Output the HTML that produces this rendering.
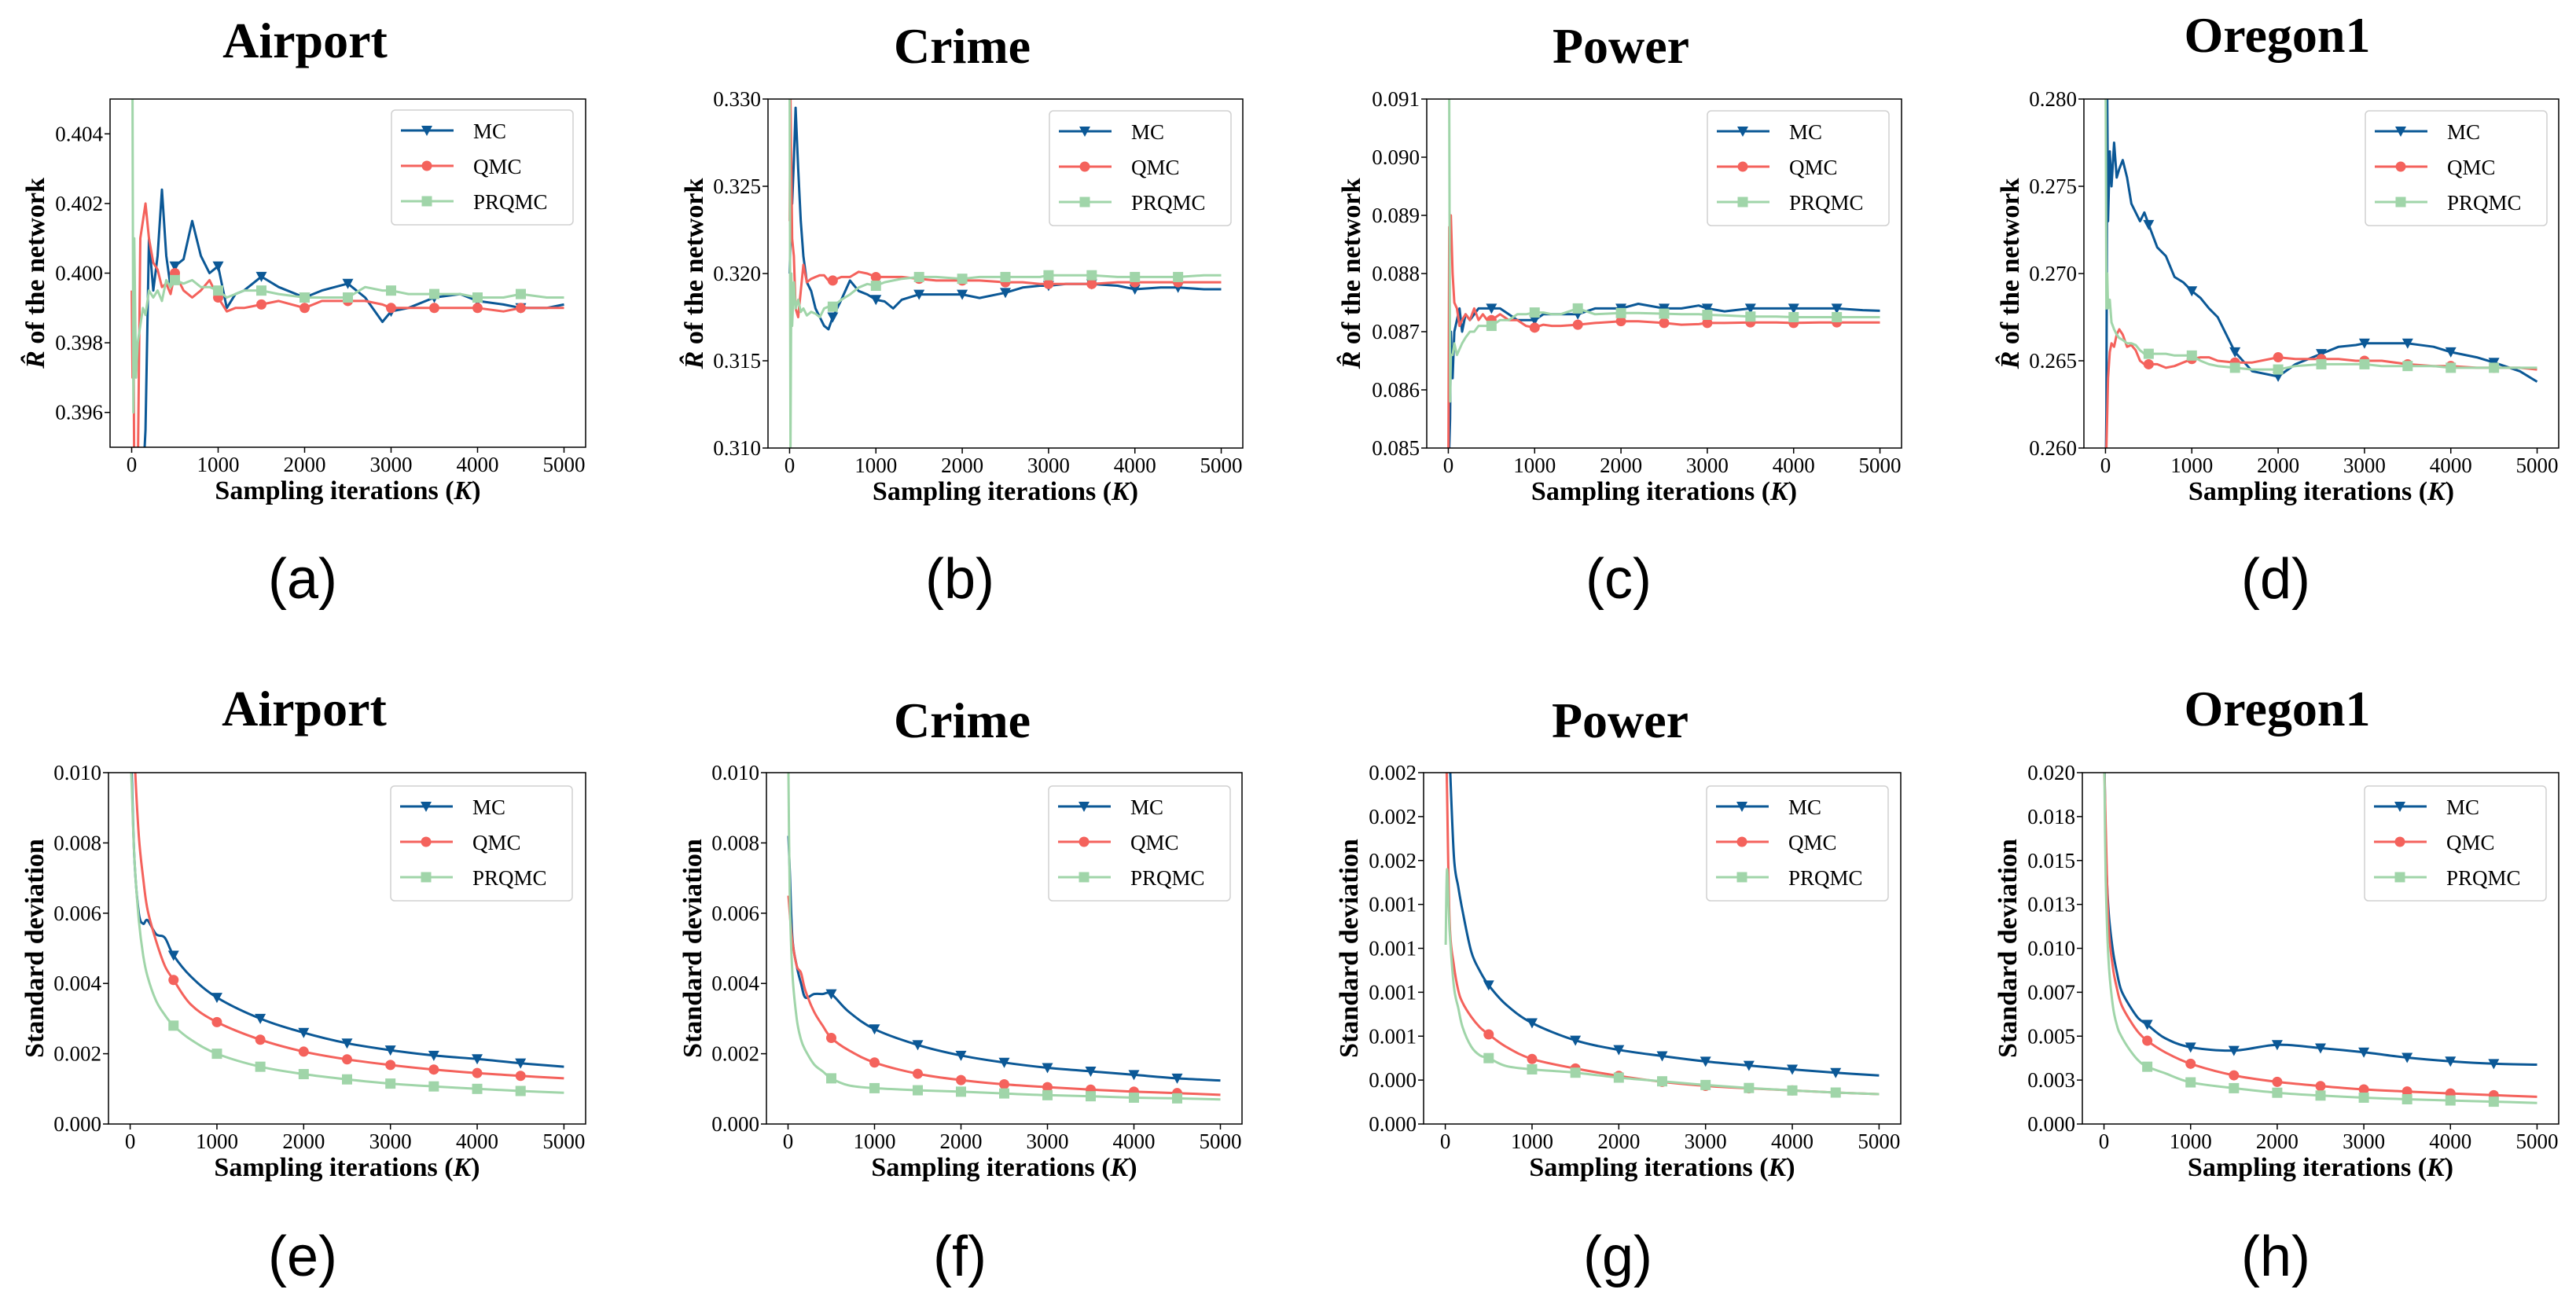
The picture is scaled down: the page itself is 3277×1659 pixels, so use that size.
<!DOCTYPE html>
<html><head><meta charset="utf-8"><style>
html,body{margin:0;padding:0;background:#fff;}
svg{display:block;}
text{font-family:"Liberation Serif",serif;fill:#000;}
</style></head><body>
<svg id="fig" width="3277" height="1659" viewBox="0 0 3277 1659" xmlns="http://www.w3.org/2000/svg"></svg>
<script>
// ---------- shared x data ----------
const xsTop=[1,10,20,30,50,70,100,130,160,200,250,300,350,400,450,500,600,700,800,900,1000,1100,1200,1300,1500,1700,2000,2200,2500,2700,2900,3000,3200,3500,3800,4000,4300,4500,4800,5000];
const xsBot=[5,20,50,100,150,200,300,400,500,700,1000,1500,2000,2500,3000,3500,4000,4500,5000];
const xTicks=[0,1000,2000,3000,4000,5000];
const markerXs=[500,1000,1500,2000,2500,3000,3500,4000,4500];
const seriesNames=["MC","QMC","PRQMC"];

// ---------- (a) Airport ----------
const aMC=[0.392,0.390,0.391,0.393,0.394,0.392,0.393,0.394,0.3955,0.401,0.3995,0.4005,0.4024,0.4005,0.3996,0.4002,0.4004,0.4015,0.4005,0.4,0.4002,0.3990,0.3994,0.3995,0.3999,0.3996,0.3993,0.3995,0.3997,0.3993,0.3986,0.3989,0.3990,0.3993,0.3994,0.3992,0.3991,0.3990,0.3990,0.3991];
const aQMC=[0.3995,0.397,0.399,0.394,0.392,0.394,0.401,0.4015,0.402,0.401,0.4003,0.4001,0.3996,0.3997,0.3994,0.4,0.3995,0.3993,0.3995,0.3998,0.3993,0.3989,0.3990,0.3990,0.3991,0.3992,0.3990,0.3992,0.3992,0.3992,0.3991,0.3990,0.3990,0.3990,0.3990,0.3990,0.3989,0.3990,0.3990,0.3990];
const aPRQMC=[0.406,0.405,0.396,0.401,0.397,0.398,0.3985,0.399,0.3988,0.3995,0.3993,0.3995,0.3992,0.3998,0.3996,0.3998,0.3997,0.3998,0.3996,0.3996,0.3995,0.3993,0.3994,0.3995,0.3995,0.3994,0.3993,0.3993,0.3993,0.3996,0.3995,0.3995,0.3994,0.3994,0.3994,0.3993,0.3993,0.3994,0.3993,0.3993];
const aYTicks=[0.396,0.398,0.400,0.402,0.404];
const aYLabels=["0.396","0.398","0.400","0.402","0.404"];
// ---------- (b) Crime ----------
const bMC=[0.320,0.322,0.3255,0.324,0.3265,0.3295,0.326,0.323,0.321,0.3195,0.319,0.318,0.3175,0.317,0.3168,0.3175,0.3185,0.3196,0.319,0.3188,0.3185,0.3184,0.318,0.3185,0.3188,0.3188,0.3188,0.3186,0.3189,0.3192,0.3193,0.3193,0.3194,0.3194,0.3193,0.3191,0.3192,0.3192,0.3191,0.3191];
const bQMC=[0.323,0.330,0.326,0.322,0.321,0.318,0.3175,0.319,0.3205,0.3195,0.3197,0.3198,0.3199,0.3199,0.3196,0.3196,0.3198,0.3198,0.3201,0.3200,0.3198,0.3198,0.3198,0.3198,0.3197,0.3196,0.3196,0.3196,0.3195,0.3195,0.3194,0.3194,0.3194,0.3194,0.3195,0.3195,0.3195,0.3195,0.3195,0.3195];
const bPRQMC=[0.330,0.310,0.320,0.317,0.3195,0.318,0.3185,0.3178,0.318,0.3176,0.3178,0.3177,0.3175,0.318,0.3181,0.3181,0.3185,0.3188,0.3192,0.3194,0.3193,0.3195,0.3196,0.3197,0.3198,0.3198,0.3197,0.3198,0.3198,0.3198,0.3198,0.3199,0.3199,0.3199,0.3198,0.3198,0.3198,0.3198,0.3199,0.3199];
const bYTicks=[0.310,0.315,0.320,0.325,0.330];
const bYLabels=["0.310","0.315","0.320","0.325","0.330"];
// ---------- (c) Power ----------
const cMC=[0.084,0.085,0.0855,0.087,0.0862,0.087,0.0872,0.0874,0.087,0.0873,0.0872,0.0873,0.0874,0.0874,0.0874,0.0874,0.0874,0.0873,0.0872,0.0872,0.0872,0.0873,0.0873,0.0873,0.0873,0.0874,0.0874,0.08748,0.0874,0.0874,0.08745,0.0874,0.08735,0.0874,0.0874,0.0874,0.0874,0.0874,0.08737,0.08736];
const cQMC=[0.085,0.0888,0.0885,0.089,0.088,0.0875,0.0874,0.0871,0.0872,0.0873,0.0872,0.0874,0.0872,0.0873,0.0872,0.0872,0.0873,0.0872,0.0872,0.0871,0.08707,0.08712,0.0871,0.0871,0.08712,0.08715,0.08718,0.08718,0.08715,0.08712,0.08713,0.08715,0.08715,0.08716,0.08716,0.08715,0.08716,0.08716,0.08716,0.08716];
const cPRQMC=[0.0915,0.091,0.0858,0.0866,0.0866,0.0868,0.0866,0.0867,0.0868,0.0869,0.0870,0.0870,0.0871,0.0871,0.0871,0.0871,0.0872,0.0872,0.0873,0.0873,0.08733,0.08733,0.0873,0.0873,0.0874,0.0873,0.08732,0.08732,0.08731,0.0873,0.0873,0.08729,0.08728,0.08726,0.08726,0.08725,0.08725,0.08725,0.08725,0.08725];
const cYTicks=[0.085,0.086,0.087,0.088,0.089,0.090,0.091];
const cYLabels=["0.085","0.086","0.087","0.088","0.089","0.090","0.091"];
// ---------- (d) Oregon1 ----------
const dMC=[0.258,0.262,0.280,0.273,0.277,0.275,0.2775,0.2755,0.276,0.2765,0.2755,0.274,0.2735,0.273,0.2735,0.2728,0.2715,0.271,0.2698,0.2695,0.269,0.2686,0.268,0.2675,0.2655,0.2644,0.2641,0.2648,0.2654,0.2658,0.2659,0.2660,0.2660,0.2660,0.2658,0.2655,0.2652,0.2649,0.2644,0.2638];
const dQMC=[0.260,0.260,0.262,0.264,0.2655,0.266,0.2658,0.2665,0.2668,0.2665,0.2658,0.2659,0.2656,0.2650,0.2648,0.2648,0.2648,0.2646,0.2647,0.2649,0.2651,0.2652,0.2652,0.2650,0.2649,0.2649,0.2652,0.2651,0.2651,0.2651,0.2650,0.2650,0.2650,0.2648,0.2647,0.2647,0.2646,0.2646,0.2646,0.2645];
const dPRQMC=[0.282,0.268,0.270,0.268,0.2685,0.2672,0.2668,0.2665,0.2663,0.2662,0.2660,0.2660,0.2659,0.2656,0.2654,0.2654,0.2654,0.2654,0.2653,0.2653,0.2653,0.2650,0.2648,0.2647,0.2646,0.2645,0.2645,0.2647,0.2648,0.2648,0.2648,0.2648,0.2647,0.2647,0.2647,0.2646,0.2646,0.2646,0.2646,0.2646];
const dYTicks=[0.260,0.265,0.270,0.275,0.280];
const dYLabels=["0.260","0.265","0.270","0.275","0.280"];
// ---------- (e) Airport std ----------
const eMC=[0.011,0.0098,0.0075,0.0060,0.0057,0.0058,0.0054,0.0053,0.0048,0.0042,0.0036,0.0030,0.0026,0.0023,0.0021,0.00195,0.00185,0.00173,0.00163];
const eQMC=[0.015,0.013,0.0105,0.0082,0.0070,0.0061,0.0052,0.0045,0.0041,0.0034,0.0029,0.0024,0.00206,0.00184,0.00168,0.00155,0.00145,0.00137,0.0013];
const ePRQMC=[0.0105,0.0095,0.0075,0.0058,0.0048,0.0042,0.0035,0.0031,0.0028,0.0024,0.0020,0.00163,0.00142,0.00127,0.00115,0.00107,0.0010,0.00094,0.00089];
const eYTicks=[0,0.002,0.004,0.006,0.008,0.010];
const eYLabels=["0.000","0.002","0.004","0.006","0.008","0.010"];
// ---------- (f) Crime std ----------
const fMC=[0.0082,0.0072,0.0053,0.0045,0.0040,0.0036,0.0037,0.0037,0.0037,0.0032,0.0027,0.00225,0.00195,0.00175,0.0016,0.0015,0.0014,0.0013,0.00124];
const fQMC=[0.0065,0.0060,0.0052,0.0045,0.0043,0.0038,0.0032,0.0028,0.00245,0.0021,0.00175,0.00143,0.00125,0.00113,0.00105,0.00098,0.00092,0.00088,0.00083];
const fPRQMC=[0.010,0.0065,0.0043,0.0030,0.0024,0.0021,0.0017,0.0015,0.0013,0.0011,0.00102,0.00096,0.00092,0.00087,0.00082,0.00079,0.00075,0.00073,0.0007];
const fYTicks=[0,0.002,0.004,0.006,0.008,0.010];
const fYLabels=["0.000","0.002","0.004","0.006","0.008","0.010"];
// ---------- (g) Power std ----------
const gMC=[0.003,0.0026,0.0021,0.00152,0.00135,0.00121,0.00098,0.00087,0.00079,0.00068,0.000575,0.000476,0.000422,0.000387,0.000356,0.000333,0.000311,0.000292,0.000276];
const gQMC=[0.0023,0.0019,0.00115,0.0009,0.00076,0.00069,0.00061,0.00055,0.00051,0.00044,0.00037,0.000316,0.000274,0.00024,0.000217,0.000203,0.000191,0.000179,0.00017];
const gPRQMC=[0.00102,0.00145,0.0011,0.00078,0.00066,0.00055,0.00044,0.00039,0.000375,0.00033,0.000311,0.000292,0.000264,0.000243,0.000222,0.000205,0.000191,0.000179,0.00017];
const gYTicks=[0,0.00025,0.0005,0.00075,0.001,0.00125,0.0015,0.00175,0.002];
const gYLabels=["0.000","0.000","0.001","0.001","0.001","0.001","0.002","0.002","0.002"];
// ---------- (h) Oregon1 std ----------
const hMC=[0.021,0.016,0.0123,0.00995,0.0086,0.0076,0.0067,0.0060,0.00566,0.0049,0.00437,0.00418,0.00451,0.00432,0.00408,0.00378,0.00357,0.00343,0.00338];
const hQMC=[0.020,0.017,0.0115,0.0090,0.0077,0.0068,0.0059,0.0052,0.00474,0.0041,0.00343,0.00277,0.0024,0.00216,0.00197,0.00185,0.00174,0.00164,0.00155];
const hPRQMC=[0.020,0.014,0.0095,0.0068,0.0056,0.0050,0.0042,0.0036,0.00326,0.0029,0.00237,0.00204,0.00178,0.00162,0.0015,0.00141,0.00134,0.00127,0.0012];
const hYTicks=[0,0.0025,0.005,0.0075,0.010,0.0125,0.015,0.0175,0.020];
const hYLabels=["0.000","0.003","0.005","0.007","0.010","0.013","0.015","0.018","0.020"];

const COLORS=["#0b5896","#f4625c","#a0d5a9"];
const NS="http://www.w3.org/2000/svg";
const svg=document.getElementById('fig');
function el(tag,attrs,parent){const e=document.createElementNS(NS,tag);for(const k in attrs)e.setAttribute(k,attrs[k]);(parent||svg).appendChild(e);return e;}

const panels=[
 {id:'a',title:'Airport',l:140,r:745,t:126,b:569,ymin:0.395,ymax:0.405,xs:xsTop,s:[aMC,aQMC,aPRQMC],yt:aYTicks,yl:aYLabels,tx:388,ty:73,lx:385,ly:736,yLabX:44,kind:'r',lg:[498,140]},
 {id:'b',title:'Crime',l:977,r:1581,t:126,b:570,ymin:0.310,ymax:0.330,xs:xsTop,s:[bMC,bQMC,bPRQMC],yt:bYTicks,yl:bYLabels,tx:1224,ty:80,lx:1221,ly:736,yLabX:882,kind:'r',lg:[1335,141]},
 {id:'c',title:'Power',l:1815,r:2419,t:126,b:570,ymin:0.085,ymax:0.091,xs:xsTop,s:[cMC,cQMC,cPRQMC],yt:cYTicks,yl:cYLabels,tx:2062,ty:80,lx:2059,ly:736,yLabX:1718,kind:'r',lg:[2172,141]},
 {id:'d',title:'Oregon1',l:2651,r:3255,t:126,b:570,ymin:0.260,ymax:0.280,xs:xsTop,s:[dMC,dQMC,dPRQMC],yt:dYTicks,yl:dYLabels,tx:2897,ty:66,lx:2895,ly:736,yLabX:2556,kind:'r',lg:[3009,141]},
 {id:'e',title:'Airport',l:138,r:745,t:983,b:1430,ymin:0,ymax:0.010,xs:xsBot,s:[eMC,eQMC,ePRQMC],yt:eYTicks,yl:eYLabels,tx:387,ty:923,lx:385,ly:1598,yLabX:43,kind:'s',lg:[497,1000]},
 {id:'f',title:'Crime',l:975,r:1580,t:983,b:1430,ymin:0,ymax:0.010,xs:xsBot,s:[fMC,fQMC,fPRQMC],yt:fYTicks,yl:fYLabels,tx:1224,ty:938,lx:1221,ly:1598,yLabX:880,kind:'s',lg:[1334,1000]},
 {id:'g',title:'Power',l:1811,r:2418,t:983,b:1430,ymin:0,ymax:0.002,xs:xsBot,s:[gMC,gQMC,gPRQMC],yt:gYTicks,yl:gYLabels,tx:2061,ty:938,lx:2058,ly:1598,yLabX:1715,kind:'s',lg:[2171,1000]},
 {id:'h',title:'Oregon1',l:2649,r:3255,t:983,b:1430,ymin:0,ymax:0.020,xs:xsBot,s:[hMC,hQMC,hPRQMC],yt:hYTicks,yl:hYLabels,tx:2897,ty:923,lx:2895,ly:1598,yLabX:2553,kind:'s',lg:[3008,1000]}
];

function interp(xs,ys,x){for(let i=0;i<xs.length-1;i++){if(x>=xs[i]&&x<=xs[i+1]){const f=(x-xs[i])/(xs[i+1]-xs[i]);return ys[i]+f*(ys[i+1]-ys[i]);}}return ys[ys.length-1];}
function smoothPath(pts){let d='M'+pts[0][0].toFixed(1)+','+pts[0][1].toFixed(1);for(let i=0;i<pts.length-1;i++){const p0=pts[Math.max(0,i-1)],p1=pts[i],p2=pts[i+1],p3=pts[Math.min(pts.length-1,i+2)];const c1=[p1[0]+(p2[0]-p0[0])/6,p1[1]+(p2[1]-p0[1])/6],c2=[p2[0]-(p3[0]-p1[0])/6,p2[1]-(p3[1]-p1[1])/6];d+=' C'+c1[0].toFixed(1)+','+c1[1].toFixed(1)+' '+c2[0].toFixed(1)+','+c2[1].toFixed(1)+' '+p2[0].toFixed(1)+','+p2[1].toFixed(1);}return d;}
function marker(g,k,x,y,color){
 if(k===0){const m=el('path',{d:`M${x-7},${y-6} L${x+7},${y-6} L${x},${y+7} Z`,fill:color},g);}
 else if(k===1){const m=el('circle',{cx:x,cy:y,r:6.5,fill:color},g);}
 else {const m=el('rect',{x:x-6.5,y:y-6.5,width:13,height:13,fill:color},g);}
}

panels.forEach(p=>{
 const g=el('g',{});
 
 
 const X=v=>p.l+(v+250)/5500*(p.r-p.l);
 const Y=v=>p.b-(v-p.ymin)/(p.ymax-p.ymin)*(p.b-p.t);
 const title=el('text',{x:p.tx,y:p.ty,'text-anchor':'middle','font-size':64,'font-weight':'bold'},g);
 title.textContent=p.title;
 
 
 const sub=el('text',{x:p.lx,y:p.ly+25,'text-anchor':'middle','font-size':72,style:'font-family:"Liberation Sans",sans-serif'},g);
 sub.textContent='('+p.id+')';
 
 
 const cp=el('clipPath',{id:'clip'+p.id},g);
 el('rect',{x:p.l,y:p.t,width:p.r-p.l,height:p.b-p.t},cp);
 const plot=el('g',{'clip-path':'url(#clip'+p.id+')'},g);
 
 
 p.s.forEach((ys,k)=>{
  const pts=p.xs.map((x,i)=>[X(x),Y(ys[i])]);
  let line;
  if(p.kind==='s') line=el('path',{d:smoothPath(pts),fill:'none',stroke:COLORS[k],'stroke-width':3},plot);
  else line=el('polyline',{points:pts.map(q=>q[0].toFixed(1)+','+q[1].toFixed(1)).join(' '),fill:'none',stroke:COLORS[k],'stroke-width':3,'stroke-linejoin':'round'},plot);
  
  
  markerXs.forEach(mx=>marker(plot,k,X(mx),Y(interp(p.xs,ys,mx)),COLORS[k]));
 });
 const frame=el('rect',{x:p.l,y:p.t,width:p.r-p.l,height:p.b-p.t,fill:'none',stroke:'#000','stroke-width':1.5},g);
 
 
 xTicks.forEach(v=>{
  const x=X(v);
  el('line',{x1:x,x2:x,y1:p.b,y2:p.b+7,stroke:'#000','stroke-width':1.5},g);
  const t=el('text',{x:x,y:p.b+31,'text-anchor':'middle','font-size':27},g);
  t.textContent=v;
  
  
 });
 p.yt.forEach((v,i)=>{
  const y=Y(v);
  el('line',{x1:p.l-7,x2:p.l,y1:y,y2:y,stroke:'#000','stroke-width':1.5},g);
  const t=el('text',{x:p.l-9,y:y+9,'text-anchor':'end','font-size':27},g);
  t.textContent=p.yl[i];
  
  
 });
 const xl=el('text',{x:(p.l+p.r)/2,y:p.b+66,'text-anchor':'middle','font-size':34,'font-weight':'bold'},g);
 xl.innerHTML='Sampling iterations (<tspan font-style="italic">K</tspan>)';
 
 
 const cy=(p.t+p.b)/2;
 const yl=el('text',{x:0,y:0,'text-anchor':'middle','font-size':34,'font-weight':'bold',transform:`translate(${p.yLabX+12},${cy}) rotate(-90)`},g);
 if(p.kind==='r') yl.innerHTML='<tspan font-style="italic">R̂</tspan> of the network';
 else yl.textContent='Standard deviation';
 
 
 // legend
 const lg=el('g',{},g);
 
 
 const [lx,ly]=p.lg;
 el('rect',{x:lx,y:ly,width:231,height:146,rx:5,fill:'#fff','fill-opacity':0.8,stroke:'#d0d0d0','stroke-width':1.5},lg);
 seriesNames.forEach((n,k)=>{
  const ey=ly+26+k*45;
  const en=el('g',{},lg);
  
  
  el('line',{x1:lx+12,x2:lx+79,y1:ey,y2:ey,stroke:COLORS[k],'stroke-width':3},en);
  marker(en,k,lx+45,ey,COLORS[k]);
  const t=el('text',{x:lx+104,y:ey+10,'font-size':27},en);
  t.textContent=n;
 });
});
</script>
</body></html>
